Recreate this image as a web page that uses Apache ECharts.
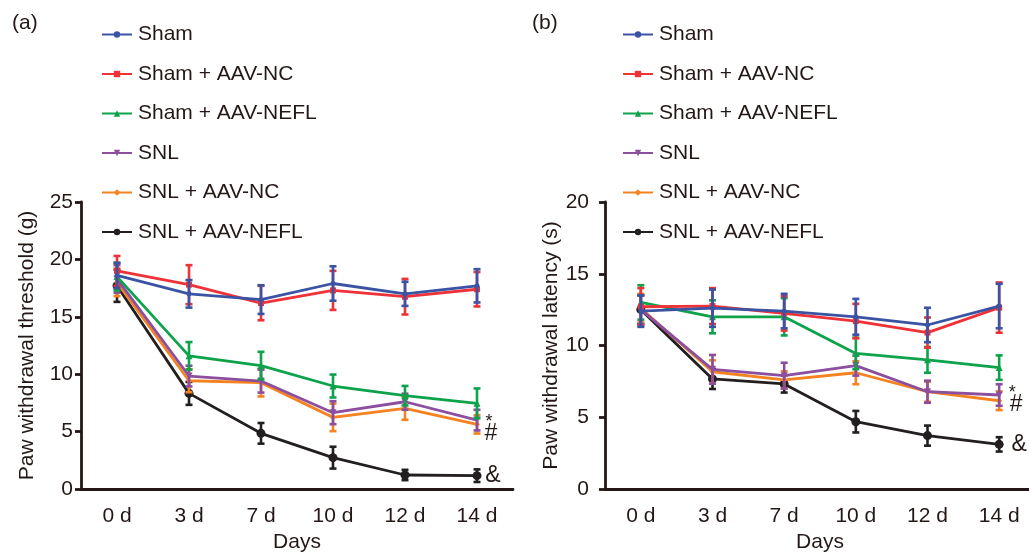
<!DOCTYPE html>
<html>
<head>
<meta charset="utf-8">
<script src="https://cdn.jsdelivr.net/npm/echarts@6/dist/echarts.min.js"></script>
<style>
  html, body { margin: 0; padding: 0; background: #fff; }
  #main { width: 1029px; height: 553px; }
</style>
</head>
<body>
<div id="main"></div>
<script>
// categories
var days = ['0 d', '3 d', '7 d', '10 d', '12 d', '14 d'];
var groups = ['Sham', 'Sham + AAV-NC', 'Sham + AAV-NEFL', 'SNL', 'SNL + AAV-NC', 'SNL + AAV-NEFL'];

// (a) paw withdrawal threshold, mean
var thrSham     = [18.6, 17.0, 16.5, 17.9, 17.0, 17.7];
var thrShamNC   = [19.0, 17.8, 16.2, 17.3, 16.75, 17.4];
var thrShamNEFL = [18.5, 11.6, 10.75, 8.97, 8.13, 7.46];
var thrSNL      = [18.3, 9.84, 9.4, 6.65, 7.6, 6.0];
var thrSNLNC    = [18.0, 9.43, 9.26, 6.24, 7.03, 5.63];
var thrSNLNEFL  = [17.7, 8.33, 4.85, 2.73, 1.22, 1.16];
// (a) error
var thrShamErr     = [1.1, 1.2, 1.25, 1.5, 1.05, 1.45];
var thrShamNCErr   = [1.3, 1.7, 1.5, 1.7, 1.55, 1.5];
var thrShamNEFLErr = [1.2, 1.2, 1.2, 1.0, 0.85, 1.3];
var thrSNLErr      = [1.2, 0.9, 1.0, 1.0, 0.7, 0.9];
var thrSNLNCErr    = [1.2, 1.0, 1.2, 1.2, 1.0, 0.8];
var thrSNLNEFLErr  = [1.4, 1.0, 0.9, 0.95, 0.45, 0.55];

// (b) paw withdrawal latency, mean
var latSham     = [12.4, 12.6, 12.4, 12.0, 11.43, 12.75];
var latShamNC   = [12.7, 12.75, 12.24, 11.7, 10.9, 12.64];
var latShamNEFL = [13.0, 12.0, 12.0, 9.45, 9.0, 8.46];
var latSNL      = [12.5, 8.34, 7.9, 8.6, 6.78, 6.55];
var latSNLNC    = [12.6, 8.17, 7.6, 8.1, 6.78, 6.15];
var latSNLNEFL  = [12.5, 7.67, 7.32, 4.69, 3.72, 3.11];
// (b) error
var latShamErr     = [1.1, 1.3, 1.2, 1.25, 1.2, 1.55];
var latShamNCErr   = [1.3, 1.25, 1.2, 1.2, 1.05, 1.75];
var latShamNEFLErr = [1.2, 1.15, 1.3, 1.1, 0.9, 0.85];
var latSNLErr      = [1.0, 1.0, 0.9, 0.7, 0.77, 0.75];
var latSNLNCErr    = [1.0, 0.8, 0.6, 0.8, 0.7, 0.65];
var latSNLNEFLErr  = [1.0, 0.7, 0.6, 0.75, 0.7, 0.5];

var colors = ['#3a53a4', '#ed3238', '#0ea24b', '#8c4f9f', '#f58220', '#231f20'];
var symbols = ['circle', 'rect', 'triangle', 'triangle', 'diamond', 'circle'];
var symbolRotate = [0, 0, 0, 180, 0, 0];
var symbolSizes = [5, 6, 7, 7, 6, 9];
var ink = '#231815';
var font = 'Liberation Sans, Arial, sans-serif';
var fs = 21;

var meansA = [thrSham, thrShamNC, thrShamNEFL, thrSNL, thrSNLNC, thrSNLNEFL];
var errsA = [thrShamErr, thrShamNCErr, thrShamNEFLErr, thrSNLErr, thrSNLNCErr, thrSNLNEFLErr];
var meansB = [latSham, latShamNC, latShamNEFL, latSNL, latSNLNC, latSNLNEFL];
var errsB = [latShamErr, latShamNCErr, latShamNEFLErr, latSNLErr, latSNLNCErr, latSNLNEFLErr];

// 误差线
function errorRender(params, api) {
  var x = api.value(0);
  var lo = api.coord([x, api.value(1)]);
  var hi = api.coord([x, api.value(2)]);
  var w = 3.5;
  var st = { stroke: api.visual('color'), lineWidth: 2.6 };
  return {
    type: 'group',
    children: [
      { type: 'line', shape: { x1: lo[0], y1: lo[1], x2: hi[0], y2: hi[1] }, style: st },
      { type: 'line', shape: { x1: lo[0] - w, y1: lo[1], x2: lo[0] + w, y2: lo[1] }, style: st },
      { type: 'line', shape: { x1: hi[0] - w, y1: hi[1], x2: hi[0] + w, y2: hi[1] }, style: st }
    ]
  };
}

function xAxisOf(idx) {
  return {
    type: 'category', gridIndex: idx, data: days, boundaryGap: true,
    name: 'Days', nameLocation: 'middle', nameGap: 43,
    nameTextStyle: { color: ink, fontSize: fs, fontFamily: font },
    axisLine: { lineStyle: { color: ink, width: 2.8 } },
    axisTick: { alignWithLabel: true, length: 6, lineStyle: { color: ink, width: 2.8 } },
    axisLabel: { color: ink, fontSize: fs, fontFamily: font, margin: 17 }
  };
}

function yAxisOf(idx, max, title, labelGap) {
  return {
    type: 'value', gridIndex: idx, min: 0, max: max, interval: 5,
    name: title, nameLocation: 'middle', nameGap: 43,
    nameTextStyle: { color: ink, fontSize: fs, fontFamily: font },
    axisLine: { show: true, lineStyle: { color: ink, width: 2.8 } },
    axisTick: { show: true, length: 6, lineStyle: { color: ink, width: 2.8 } },
    axisLabel: { color: ink, fontSize: fs, fontFamily: font, margin: labelGap },
    splitLine: { show: false }
  };
}

function legendOf(left) {
  return {
    orient: 'vertical', left: left, top: 19, data: groups,
    itemWidth: 30, itemHeight: 8, itemGap: 18.5,
    textStyle: { color: ink, fontSize: fs, fontFamily: font, padding: [0, 0, 0, 1] }
  };
}

var lines = [];
var bars = [];
// black first so Sham is drawn on top
for (var g = 0; g < 2; g++) {
  var means = g === 0 ? meansA : meansB;
  var errs = g === 0 ? errsA : errsB;
  for (var i = groups.length - 1; i >= 0; i--) {
    var errData = [];
    for (var k = 0; k < days.length; k++) {
      errData.push([k, means[i][k] - errs[i][k], means[i][k] + errs[i][k]]);
    }
    bars.push({
      type: 'custom', xAxisIndex: g, yAxisIndex: g,
      renderItem: errorRender, data: errData,
      itemStyle: { color: colors[i] }, z: 2 + (5 - i) * 0.1, silent: true
    });
    lines.push({
      type: 'line', name: groups[i], xAxisIndex: g, yAxisIndex: g, data: means[i],
      symbol: symbols[i], symbolSize: symbolSizes[i], symbolRotate: symbolRotate[i],
      showAllSymbol: true,
      lineStyle: { color: colors[i], width: 2.8 },
      itemStyle: { color: colors[i] },
      z: 2 + (5 - i) * 0.1
    });
  }
}

// significance marks at 14 d
function markOn(s, yVal, txt, dx, dy, size) {
  s.markPoint = s.markPoint || { symbolSize: 0, silent: true, animation: false, data: [] };
  s.markPoint.data.push({
    coord: ['14 d', yVal], symbolSize: 0,
    label: { show: true, formatter: txt, offset: [dx, dy], color: ink, fontSize: size, fontFamily: font }
  });
}
// lines: index g*6 + (5-i)
markOn(lines[0], thrSNLNEFL[5], '&', 16, 0, 23);
markOn(lines[1], thrSNLNC[5], '#', 14, 9, 23);
markOn(lines[2], thrSNL[5], '*', 12, 2, 18);
markOn(lines[6], latSNLNEFL[5], '&', 20, 0, 23);
markOn(lines[7], latSNLNC[5], '#', 17, 4, 23);
markOn(lines[8], latSNL[5], '*', 13, -2, 18);

var myChart = echarts.init(document.getElementById('main'), null, { renderer: 'canvas' });
var option = {
  animation: false,
  textStyle: { fontFamily: font },
  title: [
    { text: '(a)', left: 7, top: 8, textStyle: { color: ink, fontSize: fs, fontWeight: 'normal', fontFamily: font } },
    { text: '(b)', left: 527, top: 8, textStyle: { color: ink, fontSize: fs, fontWeight: 'normal', fontFamily: font } }
  ],
  legend: [legendOf(96), legendOf(617)],
  grid: [
    { left: 81, top: 202, width: 432, height: 287, outerBoundsMode: 'none' },
    { left: 605, top: 202, width: 430, height: 287, outerBoundsMode: 'none' }
  ],
  xAxis: [xAxisOf(0), xAxisOf(1)],
  yAxis: [yAxisOf(0, 25, 'Paw withdrawal threshold (g)', 8), yAxisOf(1, 20, 'Paw withdrawal latency (s)', 16)],
  series: lines.concat(bars)
};
myChart.setOption(option);
</script>
</body>
</html>
